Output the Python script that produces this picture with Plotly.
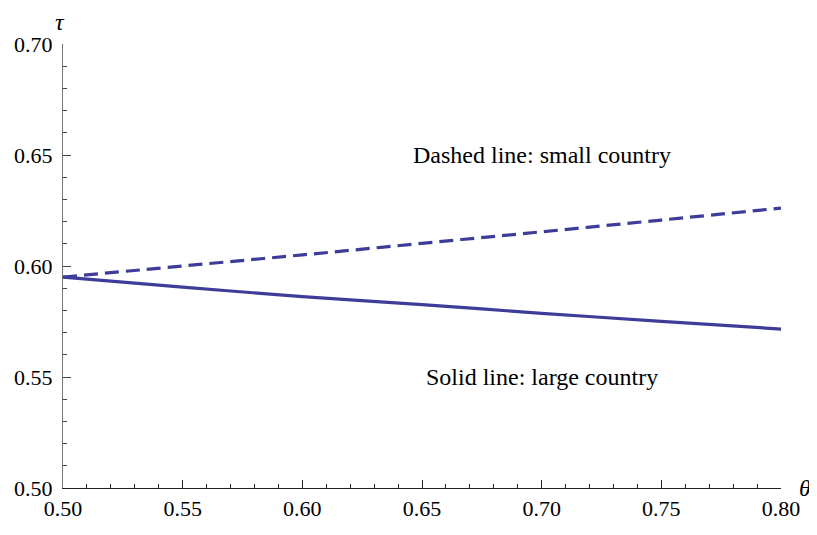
import plotly.graph_objects as go

theta = [0.50, 0.55, 0.60, 0.65, 0.70, 0.75, 0.80]
tau_small = [0.5950, 0.6000, 0.6050, 0.6102, 0.6154, 0.6207, 0.6261]
tau_large = [0.5950, 0.5905, 0.5862, 0.5826, 0.5787, 0.5751, 0.5716]
tick_vals = [0.50, 0.55, 0.60, 0.65, 0.70, 0.75, 0.80]
ytick_vals = [0.50, 0.55, 0.60, 0.65, 0.70]

color = "#3d3d99"
font = "Liberation Serif"

fig = go.Figure()
fig.add_trace(go.Scatter(x=theta, y=tau_small, mode="lines",
                         line=dict(color=color, width=3.2, dash="14px,7px", shape="spline")))
fig.add_trace(go.Scatter(x=theta, y=tau_large, mode="lines",
                         line=dict(color=color, width=3.2, shape="spline")))

# page body has an 8px margin, so the figure is sized to 809x527
fig.update_layout(
    width=809, height=527,
    margin=dict(l=55, r=36, t=36, b=47),
    plot_bgcolor="white", paper_bgcolor="white",
    showlegend=False,
    font=dict(family=font, size=22, color="black"),
    xaxis=dict(range=[0.5, 0.8], tickvals=tick_vals, tickformat=".2f",
               showgrid=False, zeroline=False, showline=True, linecolor="#222", linewidth=1.2,
               ticks="inside", ticklen=8, tickcolor="#222", tickwidth=1,
               minor=dict(dtick=0.01, ticks="inside", ticklen=4, tickcolor="#222", showgrid=False),
               tickfont=dict(family=font, size=22), automargin=False),
    yaxis=dict(range=[0.5, 0.7], tickvals=ytick_vals, tickformat=".2f",
               showgrid=False, zeroline=False, showline=True, linecolor="#777", linewidth=1.2,
               ticks="inside", ticklen=8, tickcolor="#444", tickwidth=1,
               minor=dict(dtick=0.01, ticks="inside", ticklen=4, tickcolor="#444", showgrid=False),
               tickfont=dict(family=font, size=22), ticklabelstandoff=5, automargin=False),
    annotations=[
        dict(x=0.70, y=0.65, xref="x", yref="y", text="Dashed line: small country",
             showarrow=False, font=dict(family=font, size=24)),
        dict(x=0.70, y=0.55, xref="x", yref="y", text="Solid line: large country",
             showarrow=False, font=dict(family=font, size=24)),
        dict(x=-0.004, y=1.05, xref="paper", yref="paper", text="<i>τ</i>",
             xanchor="center", yanchor="middle",
             showarrow=False, font=dict(family=font, size=24)),
        dict(x=1.034, y=0.0, xref="paper", yref="paper", text="<i>θ</i>",
             xanchor="center", yanchor="middle",
             showarrow=False, font=dict(family=font, size=24)),
    ],
)

fig.write_html("out.html")
